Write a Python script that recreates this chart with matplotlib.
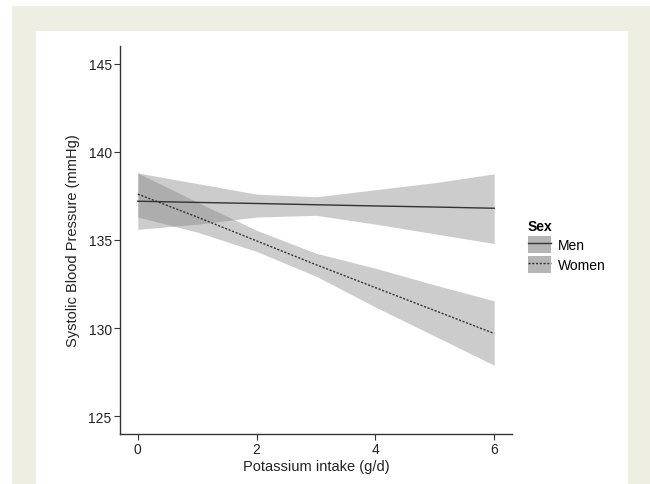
import matplotlib
matplotlib.use("Agg")
import matplotlib.pyplot as plt
import numpy as np
from matplotlib.patches import Rectangle, Patch
from matplotlib.lines import Line2D

plt.rcParams['font.family'] = ['Liberation Sans', 'DejaVu Sans']

# values
intake = [0, 1, 2, 3, 4, 5, 6]
men_fit = [137.2, 137.13, 137.07, 137.0, 136.93, 136.87, 136.8]
men_lo = [135.6, 135.9, 136.3, 136.4, 135.9, 135.35, 134.8]
men_hi = [138.8, 138.2, 137.6, 137.45, 137.85, 138.25, 138.75]
women_fit = [137.6, 136.3, 134.95, 133.6, 132.3, 131.0, 129.7]
women_lo = [136.3, 135.45, 134.35, 132.95, 131.2, 129.55, 127.9]
women_hi = [138.8, 137.15, 135.55, 134.25, 133.4, 132.45, 131.55]

x_ticks = [0, 2, 4, 6]
y_ticks = [125, 130, 135, 140, 145]

fig = plt.figure(figsize=(6.5, 4.85), dpi=100)
fig.patch.set_facecolor('white')

# beige page frame with white panel
fig.add_artist(Rectangle((12 / 650, 0), 638 / 650, 478 / 485,
                         transform=fig.transFigure, facecolor='#efeee3',
                         edgecolor='none', zorder=-2))
fig.add_artist(Rectangle((36 / 650, 0), 592 / 650, 453 / 485,
                         transform=fig.transFigure, facecolor='white',
                         edgecolor='none', zorder=-1))

ax = fig.add_axes([120 / 650, 50 / 485, 392 / 650, 388 / 485])
ax.set_facecolor('none')

band_col = '#808080'
line_col = '#333333'

ax.fill_between(intake, men_lo, men_hi, color=band_col, alpha=0.4, linewidth=0)
ax.fill_between(intake, women_lo, women_hi, color=band_col, alpha=0.4, linewidth=0)
ax.plot(intake, men_fit, color=line_col, linewidth=1.0, linestyle='-')
ax.plot(intake, women_fit, color=line_col, linewidth=1.0, linestyle=(0, (1.5, 1.2)))

ax.set_xlim(-0.3, 6.3)
ax.set_ylim(124, 146)
ax.set_xticks(x_ticks)
ax.set_yticks(y_ticks)

for side in ['top', 'right']:
    ax.spines[side].set_visible(False)
for side in ['left', 'bottom']:
    ax.spines[side].set_color('#333333')
    ax.spines[side].set_linewidth(1.0)

ax.tick_params(axis='both', direction='out', length=4, width=0.8,
               color='#333333', labelsize=10, labelcolor='#222222', pad=2)

ax.set_xlabel('Potassium intake (g/d)', fontsize=10.5, color='#222222', labelpad=2)
ax.set_ylabel('Systolic Blood Pressure (mmHg)', fontsize=10.5, color='#222222', labelpad=6)

# legend
handles = [(Patch(facecolor='#b5b5b5', edgecolor='none'),
            Line2D([], [], color=line_col, linewidth=1.0)),
           (Patch(facecolor='#b5b5b5', edgecolor='none'),
            Line2D([], [], color=line_col, linewidth=1.0, linestyle=(0, (1.5, 1.2))))]
leg = fig.legend(handles, ['Men', 'Women'], title='Sex',
                 loc='upper left', bbox_to_anchor=(522 / 650, 1 - 214 / 485),
                 frameon=False, fontsize=10, handlelength=1.7, handleheight=1.5,
                 handletextpad=0.5, labelspacing=0.25, borderaxespad=0)
leg.get_title().set_fontweight('bold')
leg.get_title().set_fontsize(10)
leg._legend_box.align = 'left'

fig.savefig('out.png', dpi=100)
